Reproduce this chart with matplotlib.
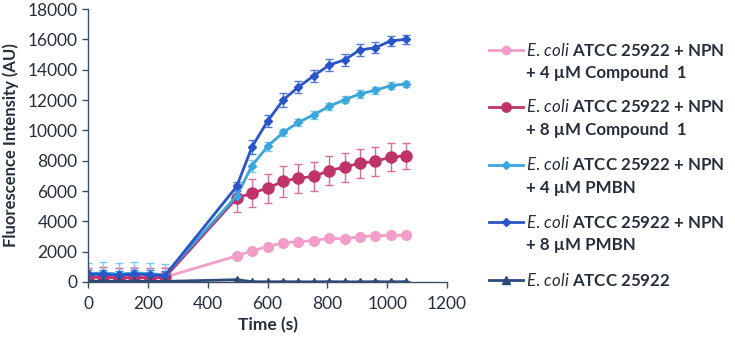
import matplotlib
matplotlib.use("Agg")
import matplotlib.pyplot as plt
from matplotlib.lines import Line2D

plt.rcParams['font.family'] = ['Lato', 'DejaVu Sans']
plt.rcParams['mathtext.fontset'] = 'custom'
plt.rcParams['mathtext.it'] = 'Lato:italic'
plt.rcParams['mathtext.rm'] = 'Lato'

# time points (s)
t = [0, 51, 103, 154, 206, 257, 497, 548, 600, 652, 703, 755, 806, 858, 909, 961, 1012, 1064]

pink = [300, 330, 280, 320, 300, 320, 1720, 2050, 2330, 2580, 2660, 2730, 2890, 2840, 2990, 3040, 3080, 3080]
pink_err = [650, 650, 650, 650, 650, 650, 150, 150, 150, 150, 150, 150, 150, 150, 150, 150, 150, 150]
red = [300, 330, 250, 300, 260, 300, 5530, 5860, 6190, 6630, 6850, 6960, 7350, 7570, 7840, 7950, 8240, 8320]
red_err = [650, 650, 650, 650, 650, 650, 900, 900, 950, 1000, 950, 950, 950, 950, 950, 950, 900, 850]
lblue = [560, 600, 520, 600, 560, 460, 5680, 7660, 8940, 9860, 10520, 11030, 11580, 12020, 12400, 12640, 12950, 13060]
lblue_err = [700, 700, 700, 700, 700, 700, 300, 400, 300, 250, 250, 250, 250, 250, 250, 250, 250, 200]
dblue = [500, 520, 450, 520, 480, 420, 6300, 8900, 10600, 12000, 12850, 13600, 14300, 14650, 15300, 15450, 15900, 16000]
dblue_err = [300, 300, 300, 300, 300, 300, 300, 450, 400, 450, 400, 400, 400, 400, 400, 350, 350, 300]
ctrl = [50, 60, 40, 50, 40, 40, 150, 20, 10, 20, 10, 10, 20, 10, 10, 20, 10, 20]
ctrl_err = [50, 50, 50, 50, 50, 50, 50, 50, 50, 50, 50, 50, 50, 50, 50, 50, 50, 50]

labels = [
    ["$\\mathit{E.\\,coli}$ ATCC 25922 + NPN", "+ 4 \u00b5M Compound  1"],
    ["$\\mathit{E.\\,coli}$ ATCC 25922 + NPN", "+ 8 \u00b5M Compound  1"],
    ["$\\mathit{E.\\,coli}$ ATCC 25922 + NPN", "+ 4 \u00b5M PMBN"],
    ["$\\mathit{E.\\,coli}$ ATCC 25922 + NPN", "+ 8 \u00b5M PMBN"],
    ["$\\mathit{E.\\,coli}$ ATCC 25922"],
]

series = [pink, red, lblue, dblue, ctrl]
errs = [pink_err, red_err, lblue_err, dblue_err, ctrl_err]
colors = ['#f29ec8', '#c0336a', '#3aa6dc', '#2a55c8', '#2c4a7c']
ecolors = ['#f5b3d4', '#d5709a', '#7cc8ec', '#4f78d8', '#4a6590']
markers = ['o', 'o', 'D', 'D', '^']
msizes = [7, 8, 4.5, 4.5, 6]

axis_col = '#3d4f66'
text_col = '#262f3c'

fig = plt.figure(figsize=(7.35, 3.45), dpi=100)
ax = fig.add_axes([88 / 735, 1 - 282 / 345, 359 / 735, 273 / 345])

for y, e, c, ec, m, ms in zip(series, errs, colors, ecolors, markers, msizes):
    ax.errorbar(t, y, yerr=e, color=c, ecolor=ec, marker=m, markersize=ms,
                lw=2, elinewidth=1, capsize=3, capthick=1)

ax.set_xlim(0, 1200)
ax.set_ylim(0, 18000)
ax.set_xticks(range(0, 1201, 200))
ax.set_yticks(range(0, 18001, 2000))
for s in ['top', 'right']:
    ax.spines[s].set_visible(False)
for s in ['left', 'bottom']:
    ax.spines[s].set_color(axis_col)
    ax.spines[s].set_linewidth(1)
ax.tick_params(colors=axis_col, labelcolor=text_col, labelsize=12.5, length=4, width=1)
ax.tick_params(axis='x', pad=6)
ax.set_xlabel("Time (s)", fontsize=12.5, fontweight='bold', color=text_col, labelpad=4)
ax.set_ylabel("Fluorescence Intensity (AU)", fontsize=12, fontweight='bold', color=text_col, labelpad=6)

# legend on the right
row_y = [50, 107, 165, 222, 280]
for lab, c, m, ms, ry in zip(labels, colors, markers, msizes, row_y):
    yf = 1 - ry / 345
    fig.add_artist(Line2D([489 / 735, 523 / 735], [yf, yf], transform=fig.transFigure,
                          color=c, lw=2))
    fig.add_artist(Line2D([506 / 735], [yf], transform=fig.transFigure,
                          color=c, marker=m, markersize=ms * 0.85, lw=0))
    for k, line in enumerate(lab):
        fig.text(526 / 735, 1 - (ry + 23 * k) / 345, line, fontsize=12.2, fontweight='bold',
                 color=text_col, va='center', ha='left')

fig.savefig("out.png", dpi=100)
